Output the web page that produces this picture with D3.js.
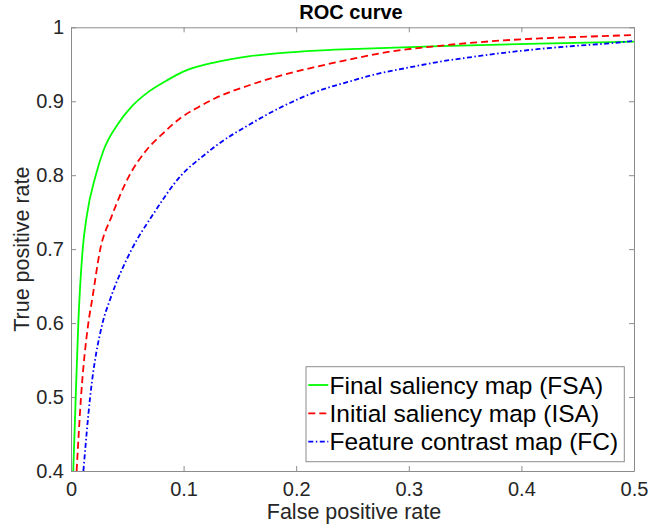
<!DOCTYPE html>
<html><head><meta charset="utf-8">
<script src="https://cdn.jsdelivr.net/npm/d3@7"></script>
<style>body{margin:0;background:#fff;} text{font-family:"Liberation Sans",Arial,sans-serif;}</style>
</head><body><svg id="c" width="651" height="528"></svg>
<script>
const seriesNames = ["Final saliency map (FSA)", "Initial saliency map (ISA)", "Feature contrast map (FC)"];
const fsaFpr = [0.002, 0.0042, 0.0065, 0.0104, 0.0139, 0.022, 0.029, 0.042, 0.054, 0.07, 0.085, 0.0997, 0.129, 0.159, 0.188, 0.218, 0.248, 0.3275, 0.416, 0.5];
const fsaTpr = [0.4, 0.5, 0.6, 0.7, 0.744, 0.8, 0.834, 0.870, 0.893, 0.914, 0.928, 0.940, 0.953, 0.961, 0.9655, 0.9685, 0.9705, 0.9745, 0.978, 0.9805];
const isaFpr = [0.005, 0.0089, 0.0154, 0.0187, 0.026, 0.036, 0.052, 0.066, 0.082, 0.097, 0.113, 0.128, 0.159, 0.188, 0.218, 0.248, 0.283, 0.3275, 0.372, 0.416, 0.461, 0.5];
const isaTpr = [0.4, 0.5, 0.6, 0.631, 0.7, 0.744, 0.8, 0.832, 0.857, 0.877, 0.892, 0.904, 0.922, 0.9355, 0.9467, 0.9567, 0.967, 0.975, 0.981, 0.985, 0.9875, 0.9896];
const fcFpr = [0.011, 0.017, 0.028, 0.0345, 0.054, 0.0716, 0.098, 0.119, 0.129, 0.159, 0.188, 0.218, 0.248, 0.268, 0.298, 0.3275, 0.357, 0.387, 0.416, 0.446, 0.4755, 0.5];
const fcTpr = [0.4, 0.5, 0.6, 0.631, 0.7, 0.744, 0.8, 0.828, 0.840, 0.869, 0.893, 0.913, 0.927, 0.9355, 0.945, 0.9535, 0.960, 0.966, 0.9707, 0.9747, 0.978, 0.9815];
const xTicks = [0, 0.1, 0.2, 0.3, 0.4, 0.5];
const yTicks = [0.4, 0.5, 0.6, 0.7, 0.8, 0.9, 1];

const svg = d3.select("#c");
const L = 71, R = 634, T = 27.3, B = 471;
const x = d3.scaleLinear().domain([0, 0.5]).range([L, R]);
const y = d3.scaleLinear().domain([0.4, 1]).range([B, T]);
const axisCol = "#8c8c8c", txtCol = "#262626";

const fmt = d => d === 0 ? "0" : d === 1 ? "1" : String(d);
const gx = svg.append("g").attr("transform", `translate(0,${B})`)
  .call(d3.axisBottom(x).tickValues(xTicks).tickFormat(fmt).tickSizeInner(-5).tickSizeOuter(0).tickPadding(11));
const gxt = svg.append("g").attr("transform", `translate(0,${T})`)
  .call(d3.axisTop(x).tickValues(xTicks).tickFormat("").tickSizeInner(-5).tickSizeOuter(0));
const gy = svg.append("g").attr("transform", `translate(${L},0)`)
  .call(d3.axisLeft(y).tickValues(yTicks).tickFormat(fmt).tickSizeInner(-5).tickSizeOuter(0).tickPadding(7));
const gyr = svg.append("g").attr("transform", `translate(${R},0)`)
  .call(d3.axisRight(y).tickValues(yTicks).tickFormat("").tickSizeInner(-5).tickSizeOuter(0));
[gx, gxt, gy, gyr].forEach(g => {
  g.selectAll("path.domain").attr("stroke", axisCol);
  g.selectAll(".tick line").attr("stroke", axisCol);
  g.selectAll(".tick text").attr("fill", txtCol).style("font-size", "20px").style("font-family", "'Liberation Sans',Arial,sans-serif");
});

const line = d3.line().x(d => x(d[0])).y(d => y(d[1])).curve(d3.curveMonotoneX);
const series = [
  {name: seriesNames[0], fpr: fsaFpr, tpr: fsaTpr, color: "#00ff00", dash: null},
  {name: seriesNames[1], fpr: isaFpr, tpr: isaTpr, color: "#ff0000", dash: "7,4"},
  {name: seriesNames[2], fpr: fcFpr, tpr: fcTpr, color: "#0000ff", dash: "5,2.5,1.5,2.5"}
];
svg.append("clipPath").attr("id", "cp").append("rect").attr("x", L).attr("y", T).attr("width", R - L).attr("height", B - T);
series.forEach(s => {
  svg.append("path").datum(s.fpr.map((f, i) => [f, s.tpr[i]]))
    .attr("d", line).attr("fill", "none").attr("stroke", s.color).attr("stroke-width", 1.8)
    .attr("stroke-dasharray", s.dash).attr("clip-path", "url(#cp)");
});

svg.append("text").attr("x", 351).attr("y", 19).attr("text-anchor", "middle")
  .style("font-size", "20px").style("font-weight", "bold").attr("fill", "#000").text("ROC curve");
svg.append("text").attr("x", 354).attr("y", 519).attr("text-anchor", "middle")
  .style("font-size", "21.5px").attr("fill", txtCol).text("False positive rate");
svg.append("text").attr("transform", `translate(28.5,${(T + B) / 2}) rotate(-90)`).attr("text-anchor", "middle")
  .style("font-size", "21.5px").attr("fill", txtCol).text("True positive rate");

const lg = svg.append("g");
lg.append("rect").attr("x", 306).attr("y", 366.7).attr("width", 318.3).attr("height", 95)
  .attr("fill", "#fff").attr("stroke", axisCol);
series.forEach((s, i) => {
  const cy = 385 + i * 28.3;
  lg.append("line").attr("x1", 308.3).attr("x2", 328.3).attr("y1", cy).attr("y2", cy)
    .attr("stroke", s.color).attr("stroke-width", 1.8).attr("stroke-dasharray", s.dash);
  lg.append("text").attr("x", 329.5).attr("y", cy + 8.5).style("font-size", "24.5px").attr("fill", "#000").text(s.name);
});
</script></body></html>
